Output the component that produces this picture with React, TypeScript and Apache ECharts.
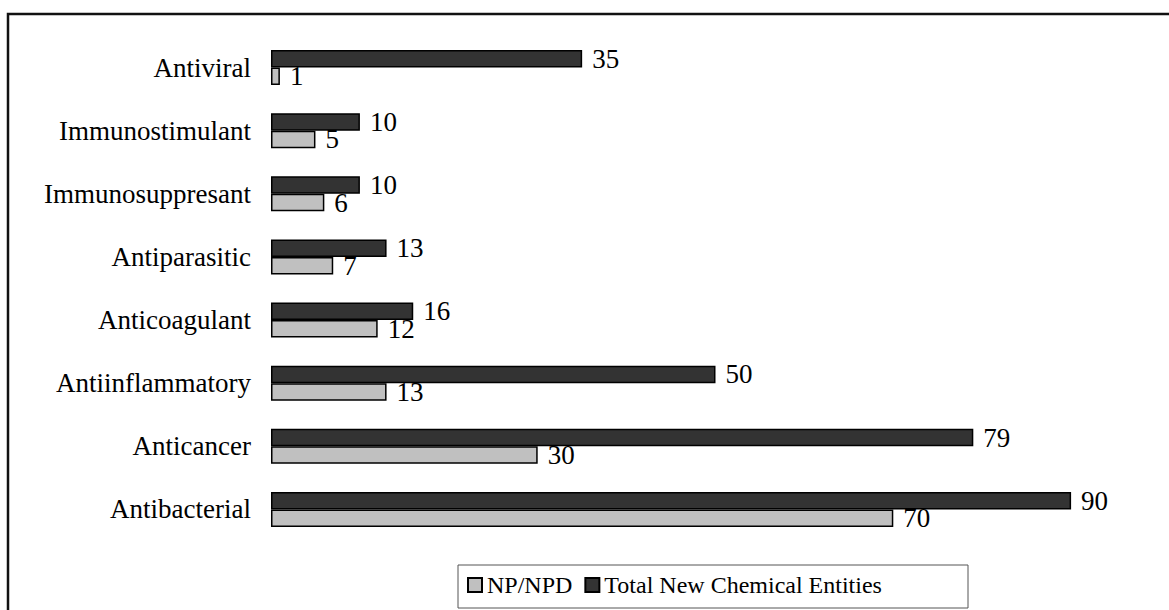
import React, { useEffect, useRef } from "react";
import * as echarts from "echarts";

const categories = [
  "Antibacterial",
  "Anticancer",
  "Antiinflammatory",
  "Anticoagulant",
  "Antiparasitic",
  "Immunosuppresant",
  "Immunostimulant",
  "Antiviral",
];
const npNpd = [70, 30, 13, 12, 7, 6, 5, 1];
const totalNce = [90, 79, 50, 16, 13, 10, 10, 35];
const seriesNames = ["NP/NPD", "Total New Chemical Entities"];

const FONT = "'Liberation Serif', 'Times New Roman', serif";

export default function App() {
  const ref = useRef<HTMLDivElement>(null);
  useEffect(() => {
    if (!ref.current) return;
    const chart = echarts.init(ref.current, undefined, { renderer: "svg" });
    const label = {
      show: true,
      position: "right",
      distance: 10,
      color: "#000",
      fontFamily: FONT,
      fontSize: 27,
    };
    chart.setOption({
      animation: false,
      backgroundColor: "#fff",
      textStyle: { fontFamily: FONT },
      graphic: [
        {
          type: "rect",
          shape: { x: 8, y: 14, width: 1300, height: 800 },
          style: { fill: "none", stroke: "#111", lineWidth: 2.5 },
          silent: true,
          z: -1,
        },
        {
          type: "rect",
          shape: { x: 458, y: 565, width: 510, height: 43 },
          style: { fill: "#fff", stroke: "#555", lineWidth: 1 },
          silent: true,
          z: 0,
        },
      ],
      grid: { left: 271, right: 9, top: 36, bottom: 69, containLabel: false },
      xAxis: {
        type: "value",
        min: 0,
        max: 100,
        show: false,
        splitLine: { show: false },
      },
      yAxis: {
        type: "category",
        data: categories,
        axisLine: { show: false },
        axisTick: { show: false },
        axisLabel: {
          color: "#000",
          fontFamily: FONT,
          fontSize: 27,
          margin: 20,
        },
      },
      legend: {
        data: seriesNames,
        left: 467,
        top: 573,
        padding: 0,
        itemGap: 12,
        itemWidth: 14,
        itemHeight: 14,
        icon: "rect",
        z: 10,
        textStyle: { color: "#000", fontFamily: FONT, fontSize: 24 },
      },
      series: [
        {
          name: seriesNames[1],
          type: "bar",
          data: totalNce,
          barWidth: 17.5,
          barGap: "0%",
          itemStyle: { color: "#333333", borderColor: "#000", borderWidth: 1.5 },
          label,
        },
        {
          name: seriesNames[0],
          type: "bar",
          data: npNpd,
          barWidth: 17.5,
          barGap: "0%",
          itemStyle: { color: "#C0C0C0", borderColor: "#000", borderWidth: 1.5 },
          label,
        },
      ],
    });
    return () => chart.dispose();
  }, []);
  return (
    <div
      ref={ref}
      style={{ position: "fixed", left: 0, top: 0, width: 1169, height: 610 }}
    />
  );
}
